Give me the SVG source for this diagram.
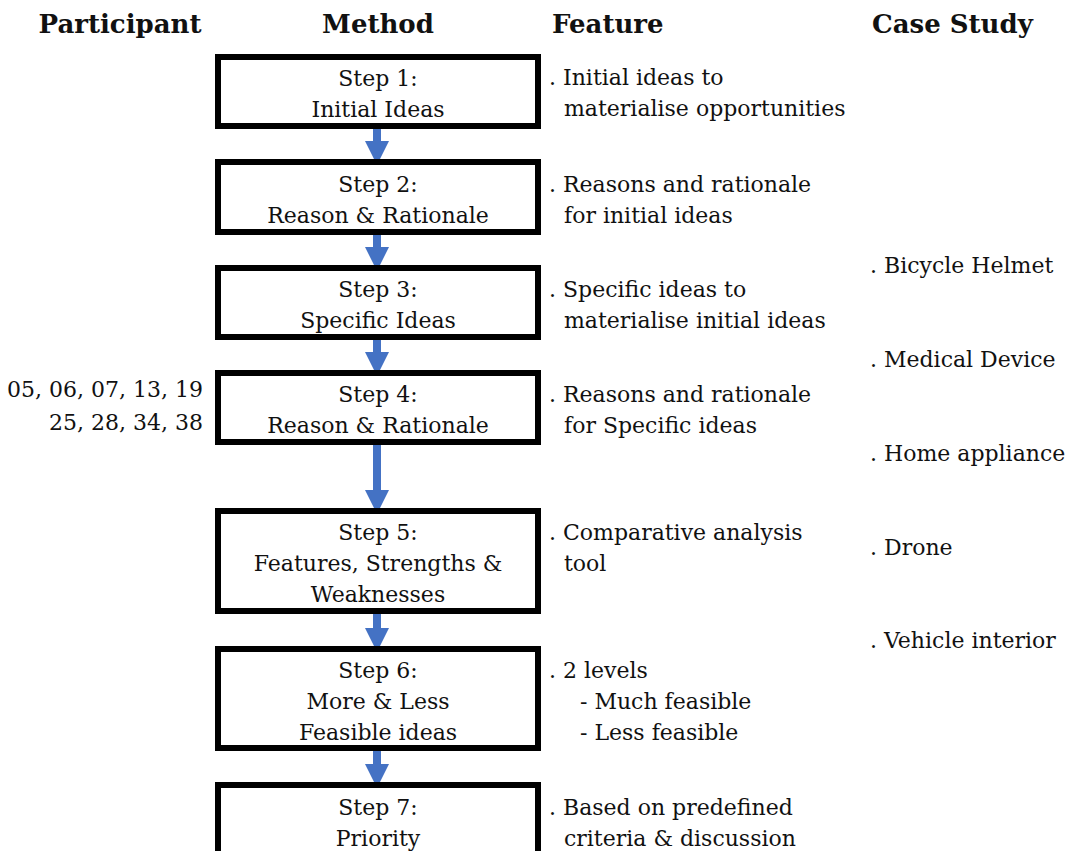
<svg xmlns="http://www.w3.org/2000/svg" width="1067" height="851" viewBox="0 0 1067 851">
  <style>
    text { font-family: "DejaVu Serif", "Liberation Serif", serif; font-size: 22px; fill: #111; }
    .head { font-weight: bold; font-size: 26px; }
    .mid { text-anchor: middle; }
    .end { text-anchor: end; }
    .box { fill: #fff; stroke: #000; stroke-width: 6; }
    .flow { stroke: #4472C4; stroke-width: 8; fill: none; }
  </style>
  <defs>
    <marker id="head" markerUnits="userSpaceOnUse" markerWidth="24" markerHeight="24" viewBox="0 0 24 24" refX="0" refY="12" orient="auto">
      <path d="M0,0 L24,12 L0,24 Z" fill="#4472C4"/>
    </marker>
  </defs>
  <rect width="1067" height="851" fill="#fff"/>

  <!-- column headings -->
  <g id="headings">
    <text class="head mid" x="120" y="33">Participant</text>
    <text class="head mid" x="378" y="33">Method</text>
    <text class="head" x="552" y="33">Feature</text>
    <text class="head" x="872" y="33">Case Study</text>
  </g>

  <!-- connectors between steps -->
  <g id="connectors">
    <line class="flow" x1="377" y1="129" x2="377" y2="141" marker-end="url(#head)"/>
    <line class="flow" x1="377" y1="235" x2="377" y2="247" marker-end="url(#head)"/>
    <line class="flow" x1="377" y1="340" x2="377" y2="352" marker-end="url(#head)"/>
    <line class="flow" x1="377" y1="445" x2="377" y2="490" marker-end="url(#head)"/>
    <line class="flow" x1="377" y1="614" x2="377" y2="628" marker-end="url(#head)"/>
    <line class="flow" x1="377" y1="751" x2="377" y2="764" marker-end="url(#head)"/>
  </g>

  <g id="step1">
    <rect class="box" x="218" y="57" width="320" height="69"/>
    <text class="mid" x="378" y="86">Step 1:</text>
    <text class="mid" x="378" y="117">Initial Ideas</text>
  </g>
  <g id="step2">
    <rect class="box" x="218" y="162" width="320" height="70"/>
    <text class="mid" x="378" y="192">Step 2:</text>
    <text class="mid" x="378" y="223">Reason &amp; Rationale</text>
  </g>
  <g id="step3">
    <rect class="box" x="218" y="268" width="320" height="69"/>
    <text class="mid" x="378" y="297">Step 3:</text>
    <text class="mid" x="378" y="328">Specific Ideas</text>
  </g>
  <g id="step4">
    <rect class="box" x="218" y="373" width="320" height="69"/>
    <text class="mid" x="378" y="402">Step 4:</text>
    <text class="mid" x="378" y="433">Reason &amp; Rationale</text>
  </g>
  <g id="step5">
    <rect class="box" x="218" y="511" width="320" height="100"/>
    <text class="mid" x="378" y="540">Step 5:</text>
    <text class="mid" x="378" y="571">Features, Strengths &amp;</text>
    <text class="mid" x="378" y="602">Weaknesses</text>
  </g>
  <g id="step6">
    <rect class="box" x="218" y="649" width="320" height="99"/>
    <text class="mid" x="378" y="678">Step 6:</text>
    <text class="mid" x="378" y="709">More &amp; Less</text>
    <text class="mid" x="378" y="740">Feasible ideas</text>
  </g>
  <g id="step7">
    <rect class="box" x="218" y="785" width="320" height="70"/>
    <text class="mid" x="378" y="815">Step 7:</text>
    <text class="mid" x="378" y="846">Priority</text>
  </g>

  <!-- participants -->
  <g id="participants">
    <text class="end" x="203" y="397">05, 06, 07, 13, 19</text>
    <text class="end" x="203" y="430">25, 28, 34, 38</text>
  </g>

  <!-- features of each step -->
  <g id="features">
    <text x="549" y="85">. Initial ideas to</text>
    <text x="564" y="116">materialise opportunities</text>
    <text x="549" y="192">. Reasons and rationale</text>
    <text x="564" y="223">for initial ideas</text>
    <text x="549" y="297">. Specific ideas to</text>
    <text x="564" y="328">materialise initial ideas</text>
    <text x="549" y="402">. Reasons and rationale</text>
    <text x="564" y="433">for Specific ideas</text>
    <text x="549" y="540">. Comparative analysis</text>
    <text x="564" y="571">tool</text>
    <text x="549" y="678">. 2 levels</text>
    <text x="580" y="709">- Much feasible</text>
    <text x="580" y="740">- Less feasible</text>
    <text x="549" y="815">. Based on predefined</text>
    <text x="564" y="846">criteria &amp; discussion</text>
  </g>

  <!-- case studies -->
  <g id="cases">
    <text x="870" y="273">. Bicycle Helmet</text>
    <text x="870" y="367">. Medical Device</text>
    <text x="870" y="461">. Home appliance</text>
    <text x="870" y="555">. Drone</text>
    <text x="870" y="648">. Vehicle interior</text>
  </g>
</svg>
